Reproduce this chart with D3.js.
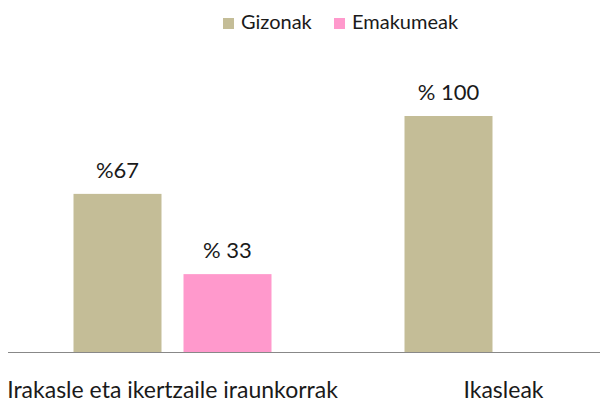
<!DOCTYPE html>
<html>
<head>
<meta charset="utf-8">
<script src="https://cdn.jsdelivr.net/npm/d3@7"></script>
<style>
  html, body { margin: 0; padding: 0; background: #fff; }
  svg { display: block; }
  text { font-family: Lato, "Noto Sans", sans-serif; fill: #1a1a1a; }
</style>
</head>
<body>
<svg id="chart" width="600" height="404"></svg>
<script>
// Chart data
const categories = ["Irakasle eta ikertzaile iraunkorrak", "Ikasleak"];
const seriesNames = ["Gizonak", "Emakumeak"];
const gizonak = [67, 100];
const emakumeak = [33, 0];
const gizonakLabels = ["%67", "% 100"];
const emakumeakLabels = ["% 33", null];
const colors = ["#C4BD97", "#FF99CC"];

const series = [
  { name: seriesNames[0], values: gizonak, labels: gizonakLabels, color: colors[0] },
  { name: seriesNames[1], values: emakumeak, labels: emakumeakLabels, color: colors[1] }
];

const svg = d3.select("#chart");
const W = 600, H = 404;
const baseY = 352;

const x0 = d3.scaleBand().domain(categories).range([7, 669]).paddingInner(0).paddingOuter(0);
const x1 = d3.scaleBand().domain(seriesNames).range([66.5, x0.bandwidth() - 66.5]).paddingInner(0.2);
const y = d3.scaleLinear().domain([0, 100]).range([baseY, 116]);

const plot = svg.append("g");

// bars with value labels above them
series.forEach(s => {
  categories.forEach((c, i) => {
    const v = s.values[i];
    if (!v) return;
    plot.append("rect")
      .attr("x", x0(c) + x1(s.name))
      .attr("y", y(v))
      .attr("width", x1.bandwidth())
      .attr("height", y(0) - y(v))
      .attr("fill", s.color);
    if (s.labels[i]) {
      plot.append("text")
        .attr("x", x0(c) + x1(s.name) + x1.bandwidth() / 2)
        .attr("y", y(v) - 16)
        .attr("text-anchor", "middle")
        .attr("font-size", 22)
        .text(s.labels[i]);
    }
  });
});

// category axis
const axis = svg.append("g").attr("transform", `translate(0,${baseY})`)
  .call(d3.axisBottom(x0).tickSize(0).tickPadding(29.5));
axis.select(".domain").attr("stroke", "#888").attr("stroke-width", 1.2)
  .attr("d", `M8,0.5H${W}`);
axis.selectAll(".tick text")
  .attr("font-size", 23)
  .attr("font-family", "Lato, 'Noto Sans', sans-serif")
  .attr("fill", "#1a1a1a");

// legend
const legendItems = [
  { name: seriesNames[0], color: colors[0], x: 223 },
  { name: seriesNames[1], color: colors[1], x: 334 }
];
const lg = svg.append("g");
legendItems.forEach(d => {
  lg.append("rect").attr("x", d.x).attr("y", 18).attr("width", 11).attr("height", 11).attr("fill", d.color);
  lg.append("text").attr("x", d.x + 18).attr("y", 29).attr("font-size", 20).text(d.name);
});
</script>
</body>
</html>
